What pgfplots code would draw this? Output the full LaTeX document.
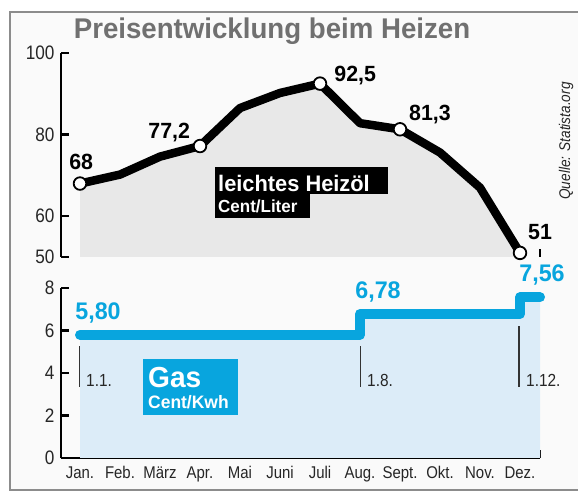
\documentclass[border=0pt]{standalone}
\usepackage{fontspec}
\setmainfont{Liberation Sans}[FakeStretch=0.88]
\newfontfamily\hbfam{Liberation Sans}[FakeStretch=0.97]
\newcommand\hb{\hbfam\bfseries}
\usepackage{pgfplots}
\pgfplotsset{compat=1.18}
\definecolor{bg}{RGB}{250,250,250}
\definecolor{oilfill}{RGB}{232,232,232}
\definecolor{gasblue}{RGB}{8,165,222}
\definecolor{gasfill}{RGB}{220,236,248}
\definecolor{titlegray}{RGB}{112,112,112}
\definecolor{framegray}{RGB}{140,140,140}
\begin{document}
\begin{tikzpicture}[x=1pt,y=1pt]
\useasboundingbox (0,0) rectangle (578,492);
\fill[white] (0,0) rectangle (578,492);
\filldraw[fill=bg, draw=framegray, line width=1.6pt] (10,2) rectangle (600,480);
\node[text=titlegray, font=\hb\fontsize{28.5}{30}\selectfont] at (272,461) {Preisentwicklung beim Heizen};
\node[rotate=90, font=\itshape\fontsize{15.5}{17}\selectfont, text=black!85] at (566,351) {Quelle: Statista.org};

% ---------- top panel: Heizoel ----------
\begin{axis}[
  at={(61pt,235pt)}, anchor=south west, scale only axis,
  width=479pt, height=204pt,
  xmin=0.525, xmax=12.5, ymin=50, ymax=100, clip=false,
  axis x line=bottom, axis y line=left, axis line style={-},
  x axis line style={draw=none},
  y axis line style={line width=2.6pt, black},
  ytick={50,60,80,100},
  xtick={1.5,2.5,...,12.5}, xticklabels={},
  tick align=inside, major tick length=8pt,
  tick style={black, line width=2.3pt},
  yticklabel style={font=\fontsize{19.5}{19.5}\selectfont, text=black!85, xshift=-3pt},
  /pgf/number format/assume math mode=true,
]
\addplot[draw=none, fill=oilfill] coordinates {(1,50)(1,68)(2,70.2)(3,74.6)(4,77.2)(5,86.5)(6,90.2)(7,92.5)(8,82.8)(9,81.3)(10,75.6)(11,67)(12,51)(12,50)};
\addplot[black, line width=8.5pt, line join=round, line cap=round] coordinates {(1,68)(2,70.2)(3,74.6)(4,77.2)(5,86.5)(6,90.2)(7,92.5)(8,82.8)(9,81.3)(10,75.6)(11,67)(12,51)};
\addplot[only marks, mark=*, mark size=6.3pt, mark options={fill=white, draw=black, line width=1.8pt}] coordinates {(1,68)(4,77.2)(7,92.5)(9,81.3)(12,51)};
\node[font=\hb\fontsize{22}{22}\selectfont] at (axis cs:1.03,73.2) {68};
\node[font=\hb\fontsize{22}{22}\selectfont] at (axis cs:3.23,80.5) {77,2};
\node[font=\hb\fontsize{22}{22}\selectfont] at (axis cs:7.88,94.6) {92,5};
\node[font=\hb\fontsize{22}{22}\selectfont] at (axis cs:9.75,84.9) {81,3};
\node[font=\hb\fontsize{22}{22}\selectfont] at (axis cs:12.5,56.1) {51};
\fill[black] (axis cs:4.375,71.95) rectangle (axis cs:8.7,65.37);
\fill[black] (axis cs:4.375,65.37) rectangle (axis cs:6.75,59.51);
\node[anchor=base west, inner sep=0pt, text=white, font=\hb\fontsize{22.5}{23}\selectfont] at (axis cs:4.45,66.1) {leichtes Heizöl};
\node[anchor=base west, inner sep=0pt, text=white, font=\hb\fontsize{17.5}{17.5}\selectfont] at (axis cs:4.45,60.98) {Cent/Liter};
\end{axis}

% ---------- bottom panel: Gas ----------
\begin{axis}[
  at={(61pt,34pt)}, anchor=south west, scale only axis,
  width=479pt, height=170pt,
  xmin=0.525, xmax=12.5, ymin=0, ymax=8, clip=false,
  axis x line=bottom, axis y line=left,
  axis line style={-, line width=2.6pt, black},
  ytick={0,2,...,8},
  xtick={1,...,12},
  xticklabels={Jan.,Feb.,März,Apr.,Mai,Juni,Juli,Aug.,Sept.,Okt.,Nov.,Dez.},
  minor xtick={1.5,2.5,...,12.5},
  tick align=inside, major tick length=8pt, minor tick length=8pt,
  tick style={black, line width=2.3pt},
  major x tick style={draw=none},
  minor x tick style={black, line width=2.3pt},
  yticklabel style={font=\fontsize{19.5}{19.5}\selectfont, text=black!85, xshift=-3pt},
  xticklabel style={font=\fontsize{17}{17}\selectfont, text=black!85, yshift=-5pt},
  /pgf/number format/assume math mode=true,
]
\addplot[const plot, draw=none, fill=gasfill] coordinates {(1,0)(1,5.8)(8,6.78)(12,7.56)(12.5,7.56)(12.5,0)};
\addplot[const plot, gasblue, line width=10pt, line join=round, line cap=round] coordinates {(1,5.8)(8,6.78)(12,7.56)(12.5,7.56)};
\draw[black!80, line width=1.2pt] (axis cs:0.98,5.27) -- (axis cs:0.98,3.34);
\draw[black!80, line width=1.2pt] (axis cs:8.02,5.27) -- (axis cs:8.02,3.34);
\draw[black!80, line width=1.2pt] (axis cs:11.975,6.21) -- (axis cs:11.975,3.34);
\node[anchor=base west, inner sep=0pt, text=black!85, font=\fontsize{17.5}{17.5}\selectfont] at (axis cs:1.15,3.38) {1.1.};
\node[anchor=base west, inner sep=0pt, text=black!85, font=\fontsize{17.5}{17.5}\selectfont] at (axis cs:8.175,3.38) {1.8.};
\node[anchor=base west, inner sep=0pt, text=black!85, font=\fontsize{17.5}{17.5}\selectfont] at (axis cs:12.15,3.38) {1.12.};
\node[text=gasblue, font=\hb\fontsize{24}{24}\selectfont] at (axis cs:1.45,6.82) {5,80};
\node[text=gasblue, font=\hb\fontsize{24}{24}\selectfont] at (axis cs:8.45,7.81) {6,78};
\node[text=gasblue, font=\hb\fontsize{24}{24}\selectfont] at (axis cs:12.55,8.6) {7,56};
\fill[gasblue] (axis cs:2.575,4.66) rectangle (axis cs:4.95,2.02);
\node[anchor=base west, inner sep=0pt, text=white, font=\hb\fontsize{29}{29}\selectfont] at (axis cs:2.7,3.34) {Gas};
\node[anchor=base west, inner sep=0pt, text=white, font=\hb\fontsize{18}{18}\selectfont] at (axis cs:2.7,2.35) {Cent/Kwh};
\end{axis}
\end{tikzpicture}
\end{document}
